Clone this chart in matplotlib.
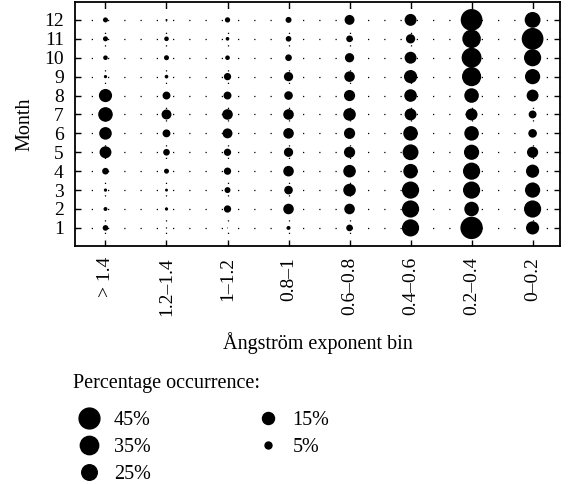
import numpy as np
import matplotlib.pyplot as plt
from matplotlib.lines import Line2D

plt.rcParams['font.family'] = ['Liberation Serif', 'DejaVu Serif']

# --- DATA ---
bins = ["> 1.4", "1.2–1.4", "1–1.2", "0.8–1", "0.6–0.8", "0.4–0.6", "0.2–0.4", "0–0.2"]
months = list(range(1, 13))

# percentage occurrence, one list per bin, months 1..12
pct_gt14   = [3.3, 1.6, 1.1, 4.6, 14.7, 16.4, 22, 18, 1.1, 2.2, 2.6, 2.6]
pct_12_14  = [0.2, 1.1, 0.9, 2.6, 4.6, 6.5, 10.2, 6.5, 1.4, 2.6, 2.2, 0.4]
pct_1_12   = [0.1, 5.5, 3.7, 5.5, 5.5, 10.2, 11.6, 6.5, 5.5, 2.2, 1.4, 2.9]
pct_08_1   = [1.6, 11.6, 7.7, 11.6, 8.9, 11.6, 11.6, 7.7, 8.9, 4.6, 3.3, 3.7]
pct_06_08  = [4.6, 11.6, 16.4, 16.4, 13, 13, 16.4, 13, 11.6, 8.9, 4.6, 10.2]
pct_04_06  = [30.6, 30.6, 30.6, 22, 26, 22, 14.7, 16.4, 18, 14.7, 8.9, 14.7]
pct_02_04  = [52, 22, 30.6, 30.6, 24, 22, 14.7, 22, 38, 41, 35.6, 49]
pct_0_02   = [18, 30.6, 24, 18, 13, 7.7, 6.5, 14.7, 24, 30.6, 49, 26]

series = [pct_gt14, pct_12_14, pct_1_12, pct_08_1,
          pct_06_08, pct_04_06, pct_02_04, pct_0_02]

legend_vals = [45, 35, 25, 15, 5]

SCALE = 5.0  # marker area (pt^2) per percent
FS = 14.5

fig = plt.figure(figsize=(5.68, 4.84), dpi=100)
ax = fig.add_axes([0.132, 0.492, 0.854, 0.504])

# dotted grid
for m in months:
    ax.axhline(m, color='black', lw=0.9, ls=(0, (1, 12)), zorder=1)
for i in range(len(bins)):
    ax.axvline(i, color='black', lw=0.9, ls=(0, (1, 9)), zorder=1)

for i, vals in enumerate(series):
    ax.scatter(np.full(len(months), i), months, s=np.array(vals) * SCALE,
               color='black', edgecolors='none', zorder=3)

ax.set_xlim(-0.5, 7.45)
ax.set_ylim(0.05, 12.95)
ax.set_xticks(range(len(bins)))
ax.set_xticklabels(bins, rotation=90, fontsize=FS - 0.5)
ax.set_yticks(months)
ax.set_yticklabels([str(m) for m in months], fontsize=FS - 0.5)
ax.tick_params(direction='in', top=True, right=True, length=4, width=1, pad=8)
for sp in ax.spines.values():
    sp.set_linewidth(1.3)
ax.set_xlabel("Ångström exponent bin", fontsize=FS, labelpad=12)
ax.set_ylabel("Month", fontsize=FS, labelpad=7)

# --- size legend ---
fig.text(0.128, 0.208, "Percentage occurrence:", fontsize=FS, va='center', ha='left')
handles = [Line2D([], [], ls='none', marker='o', color='black',
                  markersize=np.sqrt(v * SCALE), label=f"{v}%")
           for v in legend_vals]
fig.legend(handles=handles, ncol=2, loc='upper left',
           bbox_to_anchor=(0.11, 0.18), frameon=False,
           fontsize=FS, labelspacing=0.4, handlelength=1.2,
           handletextpad=0.65, columnspacing=5.2, borderpad=0.2)

fig.savefig("out.png", dpi=100)
